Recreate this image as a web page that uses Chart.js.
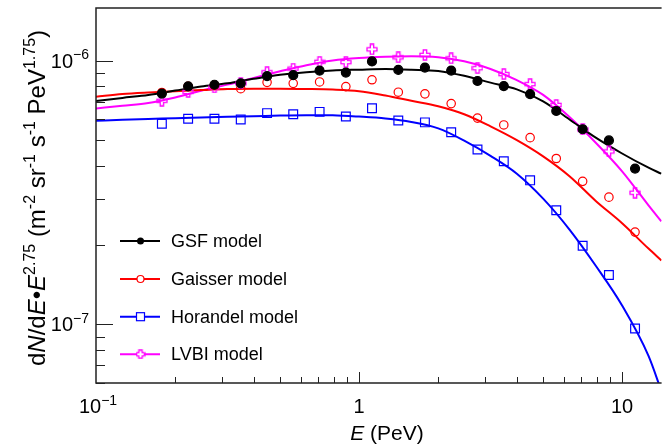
<!DOCTYPE html>
<html>
<head>
<meta charset="utf-8">
<script src="https://cdn.jsdelivr.net/npm/chart.js@4.4.0/dist/chart.umd.min.js"></script>
<style>
  html, body { margin: 0; padding: 0; background: #fff; }
  #wrap { width: 669px; height: 448px; position: relative; }
</style>
</head>
<body>
<div id="wrap"><canvas id="spectrum"></canvas></div>
<script>
// Flux values are stored in units of 1e-7 m^-2 sr^-1 s^-1 PeV^1.75
const UNIT = 1e-7;

// Measured energies (PeV)
const energy = [0.178, 0.224, 0.282, 0.355, 0.447, 0.562, 0.708, 0.891, 1.12, 1.41,
                1.78, 2.24, 2.82, 3.55, 4.47, 5.62, 7.08, 8.91, 11.2];

const gsfPoints      = [7.51, 8.00, 8.11, 8.21, 8.74, 8.82, 9.18, 9.02, 9.94, 9.23,
                        9.42, 9.18, 8.38, 8.02, 7.47, 6.45, 5.50, 4.99, 3.90];
const gaisserPoints  = [7.58, 8.00, 8.07, 7.84, 8.28, 8.21, 8.31, 7.98, 8.47, 7.60,
                        7.49, 6.88, 6.06, 5.71, 5.11, 4.26, 3.49, 3.04, 2.24];
const horandelPoints = [5.77, 6.03, 6.03, 5.99, 6.33, 6.27, 6.40, 6.15, 6.61, 5.94,
                        5.84, 5.36, 4.61, 4.16, 3.52, 2.71, 1.99, 1.54, 0.966];
const lvbiPoints     = [7.05, 7.62, 7.92, 8.21, 9.05, 9.34, 9.91, 9.88, 11.05, 10.30,
                        10.53, 10.21, 9.37, 8.90, 8.15, 6.80, 5.49, 4.53, 3.16];

// Model curves sampled in energy (PeV)
const curveEnergy = [0.1, 0.126, 0.158, 0.2, 0.251, 0.316, 0.398, 0.501, 0.631, 0.794,
                     1, 1.26, 1.58, 2, 2.51, 3.16, 3.98, 5.01, 6.31, 7.94, 10, 12.6, 14.1];

const gsfCurve      = [7.03, 7.23, 7.42, 7.71, 7.99, 8.21, 8.54, 8.85, 9.05, 9.19,
                       9.25, 9.30, 9.25, 9.15, 8.77, 8.26, 7.79, 7.02, 5.99, 5.11, 4.45, 3.93, 3.73];
const gaisserCurve  = [7.31, 7.48, 7.58, 7.66, 7.74, 7.81, 7.84, 7.84, 7.82, 7.78,
                       7.67, 7.38, 7.05, 6.72, 6.27, 5.64, 5.00, 4.34, 3.65, 2.94, 2.42, 1.94, 1.75];
const horandelCurve = [5.92, 5.98, 6.02, 6.05, 6.09, 6.13, 6.16, 6.20, 6.22, 6.21,
                       6.14, 6.04, 5.86, 5.54, 4.98, 4.36, 3.73, 3.00, 2.29, 1.67, 1.18, 0.76, 0.56];
const lvbiCurve     = [6.59, 6.75, 6.91, 7.26, 7.70, 8.12, 8.61, 9.12, 9.62, 10.02,
                       10.24, 10.35, 10.39, 10.30, 9.95, 9.31, 8.44, 7.42, 6.12, 4.89, 3.81, 2.83, 2.46];

const seriesNames  = ['GSF model', 'Gaisser model', 'Horandel model', 'LVBI model'];
const seriesColors = ['#000000', '#ff0000', '#0000ff', '#ff00ff'];

// Axis tick labels: base and exponent
const xTickLabels = [{ value: 0.1, base: '10', exp: '\u22121' }, { value: 1, base: '1', exp: '' }, { value: 10, base: '10', exp: '' }];
const yTickLabels = [{ value: 1e-6, base: '10', exp: '\u22126' }, { value: 1e-7, base: '10', exp: '\u22127' }];

const FONT = '"Liberation Sans", Arial, Helvetica, sans-serif';

// outlined "plus" marker
function openCross(size, color) {
    const c = document.createElement('canvas');
    c.width = c.height = size;
    const g = c.getContext('2d');
    const m = size / 2, o = size / 2 - 1, w = 1.7;
    g.strokeStyle = color;
    g.lineWidth = 1.3;
    g.beginPath();
    g.moveTo(m - w, m - o); g.lineTo(m + w, m - o); g.lineTo(m + w, m - w);
    g.lineTo(m + o, m - w); g.lineTo(m + o, m + w); g.lineTo(m + w, m + w);
    g.lineTo(m + w, m + o); g.lineTo(m - w, m + o); g.lineTo(m - w, m + w);
    g.lineTo(m - o, m + w); g.lineTo(m - o, m - w); g.lineTo(m - w, m - w);
    g.closePath();
    g.stroke();
    return c;
}

const crossMarker = openCross(12, seriesColors[3]);
const crossLegend = openCross(10, seriesColors[3]);

function pairs(xs, ys) {
    return xs.map((x, i) => ({ x: x, y: ys[i] * UNIT }));
}

// text with italic pieces and superscripts: parts = [[text, style]]
function fontFor(style, size) {
    const s = style === 'sup' ? Math.round(size * 0.68) : size;
    return (style === 'i' ? 'italic ' : '') + s + 'px ' + FONT;
}
function drawRich(ctx, parts, x, y, size, align) {
    let total = 0;
    parts.forEach(p => { ctx.font = fontFor(p[1], size); total += ctx.measureText(p[0]).width; });
    let cx = align === 'center' ? x - total / 2 : align === 'right' ? x - total : x;
    ctx.textAlign = 'left';
    ctx.textBaseline = 'alphabetic';
    parts.forEach(p => {
        ctx.font = fontFor(p[1], size);
        ctx.fillText(p[0], cx, p[1] === 'sup' ? y - size * 0.42 : y);
        cx += ctx.measureText(p[0]).width;
    });
}

const frame = {
    id: 'frame',
    afterDatasetsDraw(chart) {
        const { ctx, chartArea: a, scales: { x, y } } = chart;
        ctx.save();
        ctx.strokeStyle = '#222';
        ctx.lineWidth = 1.5;
        ctx.beginPath();
        ctx.moveTo(a.right, a.top);
        ctx.lineTo(a.left, a.top);
        ctx.lineTo(a.left, a.bottom);
        ctx.lineTo(a.right, a.bottom);
        ctx.stroke();

        // log ticks pointing inwards
        ctx.lineWidth = 1;
        ctx.beginPath();
        for (let d = -1; d <= 1; d++) {
            for (let m = 1; m <= 9; m++) {
                const v = m * Math.pow(10, d);
                if (v <= x.min || v > x.max) continue;
                const px = Math.round(x.getPixelForValue(v)) + 0.5;
                ctx.moveTo(px, a.bottom);
                ctx.lineTo(px, a.bottom - (m === 1 ? 11 : 6));
            }
        }
        for (let d = -8; d <= -6; d++) {
            for (let m = 1; m <= 9; m++) {
                const v = m * Math.pow(10, d);
                if (v < y.min || v > y.max) continue;
                const py = Math.round(y.getPixelForValue(v)) + 0.5;
                ctx.moveTo(a.left, py);
                ctx.lineTo(a.left + (m === 1 ? 17 : 9), py);
            }
        }
        ctx.stroke();

        ctx.fillStyle = '#000';
        xTickLabels.forEach(t => {
            const parts = [[t.base, '']];
            if (t.exp) parts.push([t.exp, 'sup']);
            drawRich(ctx, parts, x.getPixelForValue(t.value) + (t.exp ? 2 : 0), 413, 20, 'center');
        });
        yTickLabels.forEach(t => {
            drawRich(ctx, [[t.base, ''], [t.exp, 'sup']], 89, y.getPixelForValue(t.value) + 7, 20, 'right');
        });

        // axis titles
        drawRich(ctx, [['E', 'i'], [' (PeV)', '']], 387, 440, 21, 'center');
        ctx.save();
        ctx.translate(45, 198);
        ctx.rotate(-Math.PI / 2);
        drawRich(ctx, [
            ['d', ''], ['N', 'i'], ['/d', ''], ['E', 'i'], ['\u2022', ''], ['E', 'i'], ['2.75', 'sup'],
            [' (m', ''], ['-2', 'sup'], [' sr', ''], ['-1', 'sup'], [' s', ''], ['-1', 'sup'],
            [' PeV', ''], ['1.75', 'sup'], [')', '']
        ], 0, 0, 24, 'center');
        ctx.restore();

        // legend
        const rows = [241, 279, 316.7, 354.3];
        seriesNames.forEach((name, i) => {
            const ly = rows[i];
            const col = seriesColors[i];
            ctx.strokeStyle = col;
            ctx.lineWidth = 2;
            ctx.beginPath();
            ctx.moveTo(120, ly);
            ctx.lineTo(160, ly);
            ctx.stroke();
            ctx.lineWidth = 1.2;
            ctx.fillStyle = col;
            if (i === 0) {
                ctx.beginPath(); ctx.arc(140.5, ly, 3.5, 0, Math.PI * 2); ctx.fill();
            } else if (i === 1) {
                ctx.fillStyle = '#fff';
                ctx.beginPath(); ctx.arc(140.5, ly, 3.5, 0, Math.PI * 2); ctx.fill(); ctx.stroke();
            } else if (i === 2) {
                ctx.fillStyle = '#fff';
                ctx.fillRect(136.5, ly - 4, 8, 8); ctx.strokeRect(136.5, ly - 4, 8, 8);
            } else {
                ctx.fillStyle = '#fff';
                ctx.fillRect(137, ly - 3, 7, 6);
                ctx.drawImage(crossLegend, 140.5 - 5, ly - 5);
            }
            ctx.fillStyle = '#000';
            ctx.font = '18px ' + FONT;
            ctx.textAlign = 'left';
            ctx.textBaseline = 'middle';
            ctx.fillText(name, 171, ly + 1);
        });
        ctx.restore();
    }
};

const curves = [gsfCurve, gaisserCurve, horandelCurve, lvbiCurve];
const points = [gsfPoints, gaisserPoints, horandelPoints, lvbiPoints];
const markerStyles = [
    { pointStyle: 'circle', pointRadius: 4.5, fill: '#000000' },
    { pointStyle: 'circle', pointRadius: 4.2, fill: 'rgba(0,0,0,0)' },
    { pointStyle: 'rect', pointRadius: 6.2, fill: 'rgba(0,0,0,0)' },
    { pointStyle: crossMarker, pointRadius: 6, fill: 'rgba(0,0,0,0)' }
];

const datasets = [];
curves.forEach((c, i) => {
    datasets.push({
        label: seriesNames[i] + ' curve',
        data: pairs(curveEnergy, c),
        borderColor: seriesColors[i],
        borderWidth: 2,
        pointRadius: 0,
        cubicInterpolationMode: 'monotone',
        fill: false,
        clip: 0,
        order: 2
    });
});
points.forEach((p, i) => {
    datasets.push({
        label: seriesNames[i],
        data: pairs(energy, p),
        showLine: false,
        pointStyle: markerStyles[i].pointStyle,
        pointRadius: markerStyles[i].pointRadius,
        pointBorderWidth: 1.2,
        pointBorderColor: seriesColors[i],
        pointBackgroundColor: markerStyles[i].fill,
        clip: 0,
        order: 1
    });
});

new Chart(document.getElementById('spectrum').getContext('2d'), {
    type: 'line',
    data: { datasets: datasets },
    options: {
        responsive: true,
        maintainAspectRatio: false,
        animation: false,
        layout: { padding: { left: 96, right: 0, top: 8, bottom: 65 } },
        scales: {
            x: { type: 'logarithmic', min: 0.1, max: 14.13, display: false },
            y: { type: 'logarithmic', min: 6.34e-8, max: 1.585e-6, display: false }
        },
        plugins: {
            legend: { display: false },
            tooltip: { enabled: false }
        }
    },
    plugins: [frame]
});
</script>
</body>
</html>
